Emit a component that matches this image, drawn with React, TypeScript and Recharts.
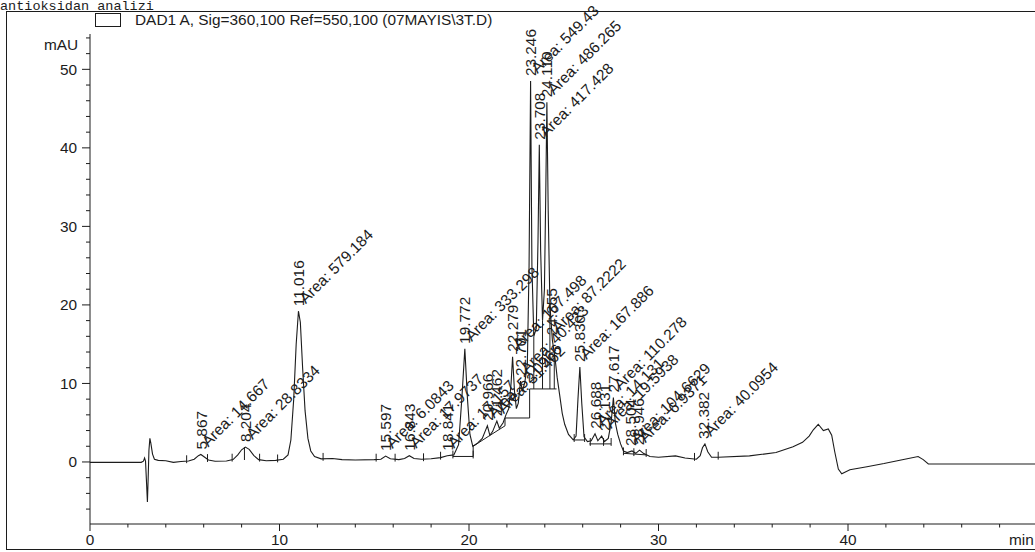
import { ComposedChart, Line, XAxis, YAxis, Scatter } from "recharts";

// detector trace, [min, mAU]
const trace: [number, number][] = [
  [0, -0.05], [2.7, -0.05], [2.82, 0.1], [2.88, 0.5], [2.93, 0.1], [2.98, -2.5], [3.03, -5.1], [3.07, -2],
  [3.11, 1.5], [3.16, 3.0], [3.21, 2.4], [3.3, 1.0], [3.4, 0.35], [3.6, 0.2], [4.0, 0.15], [4.4, -0.05],
  [4.8, 0.05], [5.2, 0.12], [5.5, 0.35], [5.72, 0.8], [5.85, 0.95], [6.0, 0.7], [6.25, 0.25], [6.6, 0.1],
  [7.2, 0.12], [7.55, 0.3], [7.8, 0.9], [8.0, 1.55], [8.2, 1.9], [8.4, 1.6], [8.65, 0.8], [8.9, 0.3],
  [9.3, 0.15], [9.8, 0.2], [10.2, 0.35], [10.45, 0.9], [10.6, 2.8], [10.75, 8], [10.88, 15], [11.0, 19.2],
  [11.1, 17.8], [11.22, 12], [11.35, 6.5], [11.5, 3], [11.65, 1.4], [11.85, 0.7], [12.2, 0.4], [12.8, 0.45],
  [13.3, 0.3], [14.0, 0.25], [15.0, 0.3], [15.35, 0.35], [15.6, 0.75], [15.85, 0.4], [16.3, 0.3], [16.6, 0.45],
  [16.85, 0.8], [17.1, 0.45], [17.5, 0.35], [18.0, 0.4], [18.5, 0.55], [18.85, 0.8], [19.2, 0.9], [19.45, 2.2],
  [19.62, 8], [19.78, 14.4], [19.92, 8], [20.05, 3.5], [20.2, 2.0], [20.45, 2.4], [20.7, 3.0], [20.85, 3.9],
  [20.97, 4.6], [21.1, 3.4], [21.25, 3.9], [21.35, 4.5], [21.47, 5.2], [21.6, 4.3], [21.8, 5.0], [21.95, 6.0],
  [22.1, 6.8], [22.22, 10], [22.3, 13.4], [22.4, 9], [22.5, 6.8], [22.6, 7.5], [22.72, 10.3], [22.82, 9],
  [22.95, 10.2], [23.08, 12.5], [23.17, 25], [23.25, 48.5], [23.32, 25], [23.42, 16], [23.55, 17], [23.64, 28],
  [23.71, 40.4], [23.78, 27], [23.88, 18], [23.98, 22], [24.05, 34], [24.11, 45.8], [24.18, 32], [24.27, 20],
  [24.4, 15.5], [24.55, 13], [24.65, 10.8], [24.78, 8.6], [24.92, 6.2], [25.05, 4.8], [25.25, 3.5], [25.5, 2.8],
  [25.65, 3.3], [25.75, 8], [25.85, 12.1], [25.95, 7.5], [26.07, 3.2], [26.25, 2.6], [26.45, 2.7], [26.65, 3.6],
  [26.8, 2.7], [27.0, 3.3], [27.15, 2.6], [27.35, 3.0], [27.5, 5.0], [27.62, 8.2], [27.72, 5.0], [27.85, 3.5],
  [28.0, 2.3], [28.15, 1.4], [28.35, 1.2], [28.6, 1.4], [28.8, 1.1], [29.0, 1.5], [29.2, 1.1], [29.55, 0.7],
  [30.0, 0.6], [30.9, 0.77], [31.4, 0.5], [32.0, 0.35], [32.2, 0.8], [32.32, 1.8], [32.45, 2.3], [32.6, 1.3],
  [32.8, 0.6], [33.16, 0.6], [34.8, 0.77], [36.2, 1.2], [37.1, 1.95], [37.6, 2.5], [37.95, 3.3], [38.17, 4.1],
  [38.43, 4.8], [38.7, 4.0], [38.96, 4.2], [39.14, 3.4], [39.3, 1.3], [39.49, -0.9], [39.67, -1.5], [40.1, -1.0],
  [41.0, -0.6], [41.9, -0.2], [42.8, 0.25], [43.7, 0.7], [43.97, 0.3], [44.24, -0.25], [50, -0.25],
];

// integration results
const peakRT = [5.867, 8.204, 11.016, 15.597, 16.843, 18.841, 19.772, 20.966, 21.462, 22.279, 22.701, 23.246, 23.708, 24.11, 24.355, 25.83, 26.688, 27.131, 27.617, 28.504, 28.946, 32.382];
const peakArea = ["14.667", "28.8334", "579.184", "6.0843", "17.9737", "17.157", "333.298", "52.0966", "31.462", "107.498", "40.423", "549.43", "417.428", "486.265", "87.2222", "167.886", "14.131", "19.5938", "110.278", "104.6629", "6.9371", "40.0954"];
const peakTop = [0.95, 1.9, 19.2, 0.75, 0.8, 0.8, 14.4, 4.6, 5.2, 13.4, 10.3, 48.5, 40.4, 45.8, 15.5, 12.1, 3.6, 3.3, 8.2, 1.4, 1.5, 2.3];
const rtText = ["5.867", "8.204", "11.016", "15.597", "16.843", "18.841", "19.772", "20.966", "21.462", "22.279", "22.701", "23.246", "23.708", "24.110", "24.355", "25.830", "26.688", "27.131", "27.617", "28.504", "28.946", "32.382"];

// baselines drawn by the integrator, [t1, v1, t2, v2]
const baselines: [number, number, number, number][] = [
  [19.15, 0.7, 20.22, 0.7], [20.22, 0.7, 20.22, 2.0], [20.22, 2.0, 21.05, 3.3], [21.05, 3.3, 21.9, 4.6],
  [21.9, 4.6, 21.9, 5.6], [21.9, 5.6, 23.2, 5.6], [23.2, 5.6, 23.2, 9.3], [23.2, 9.3, 24.62, 9.3],
  [25.55, 2.8, 26.1, 2.8], [26.35, 2.3, 27.5, 2.3], [28.15, 1.1, 29.35, 0.9],
];
const dropLines: [number, number, number][] = [
  [8.15, 0.25, 1.9], [23.42, 9.3, 16], [23.88, 9.3, 18], [24.27, 9.3, 20], [24.5, 9.3, 13.8],
];
const boundaryTicks: [number, number][] = [
  [5.1, 0.1], [6.2, 0.25], [7.5, 0.3], [8.95, 0.3], [9.9, 0.2], [12.3, 0.4], [15.1, 0.3], [16.1, 0.3],
  [17.6, 0.35], [18.5, 0.55], [19.15, 0.7], [20.22, 0.7], [25.55, 2.8], [26.1, 2.8], [26.4, 2.3], [27.1, 2.3],
  [27.5, 2.3], [28.15, 1.1], [28.7, 1.0], [29.35, 0.9], [31.9, 0.4], [33.15, 0.55],
];

const xTicks = [0, 2, 4, 6, 8, 10, 12, 14, 16, 18, 20, 22, 24, 26, 28, 30, 32, 34, 36, 38, 40, 42, 44, 46, 48];
const yTicks = [-6, -4, -2, 0, 2, 4, 6, 8, 10, 12, 14, 16, 18, 20, 22, 24, 26, 28, 30, 32, 34, 36, 38, 40, 42, 44, 46, 48, 50, 52, 54];

const INK = "#1c1c1c";
const FONT = "'Liberation Sans', Arial, Helvetica, sans-serif";
const FS = 15.4;

const traceData = trace.map(([t, v]) => ({ t, v }));
const peakData = peakRT.map((t, i) => ({ t, v: peakTop[i], rt: rtText[i], area: peakArea[i] }));
const baselineData = baselines.flatMap(([t1, v1, t2, v2]) => [{ t: t1, v: v1 }, { t: t2, v: v2 }, { t: t2, v: null }]);
const dropData = dropLines.flatMap(([t, lo, hi]) => [{ t, v: lo }, { t, v: hi }, { t, v: null }]);
const tickData = boundaryTicks.flatMap(([t, b]) => [{ t, v: b - 0.25 }, { t, v: b + 0.75 }, { t, v: null }]);

function PeakLabel(props: any) {
  const { cx, cy, payload } = props;
  if (cx == null || cy == null) return null;
  return (
    <g fill={INK} fontFamily={FONT} fontSize={FS}>
      <text transform={`translate(${cx + 5.5},${cy - 5}) rotate(-90)`}>{payload.rt}</text>
      <text transform={`translate(${cx + 7},${cy - 7}) rotate(-45)`}>{`Area: ${payload.area}`}</text>
    </g>
  );
}

function YTick(props: any) {
  const { x, y, payload } = props;
  const major = payload.value % 10 === 0;
  return (
    <g>
      <line x1={x - (major ? 8 : 4)} x2={x} y1={y} y2={y} stroke={INK} />
      {major && (
        <text x={x - 13} y={y} dy="0.35em" textAnchor="end" fontFamily={FONT} fontSize={FS} fill={INK}>
          {payload.value}
        </text>
      )}
    </g>
  );
}

function XTick(props: any) {
  const { x, y, payload } = props;
  const major = payload.value % 10 === 0;
  return (
    <g>
      <line x1={x} x2={x} y1={y} y2={y + (major ? 7 : 3.5)} stroke={INK} />
      {major && (
        <text x={x} y={y + 21} textAnchor="middle" fontFamily={FONT} fontSize={FS} fill={INK}>
          {payload.value}
        </text>
      )}
    </g>
  );
}

export default function App() {
  return (
    <div style={{ position: "absolute", left: 0, top: 0, width: 1035, height: 552, overflow: "hidden", background: "#fff" }}>
      <div style={{ position: "absolute", left: 0, top: 1, fontFamily: "'Liberation Mono', 'Courier New', monospace", fontSize: 13.5, lineHeight: "11px", color: INK, whiteSpace: "nowrap" }}>
        antioksidan analizi
      </div>
      <div style={{ position: "absolute", left: 6, top: 11, width: 1100, height: 537, border: `1px solid ${INK}` }} />
      <div style={{ position: "absolute", left: 95, top: 13, width: 24, height: 12, border: `1px solid ${INK}` }} />
      <div style={{ position: "absolute", left: 135, top: 11, fontFamily: FONT, fontSize: FS, color: INK, whiteSpace: "nowrap" }}>
        DAD1 A, Sig=360,100 Ref=550,100 (07MAYIS\3T.D)
      </div>
      <div style={{ position: "absolute", left: 44, top: 36, fontFamily: FONT, fontSize: FS, color: INK }}>mAU</div>
      <div style={{ position: "absolute", left: 1009, top: 531, fontFamily: FONT, fontSize: FS, color: INK }}>min</div>
      <div style={{ position: "absolute", left: 0, top: 0 }}>
        <ComposedChart width={1040} height={552} data={traceData} margin={{ top: 34, right: 2.5, bottom: 0, left: 0 }}>
          <XAxis
            dataKey="t"
            type="number"
            domain={[0, 50]}
            ticks={xTicks}
            interval={0}
            height={28}
            tickSize={0}
            tickMargin={0}
            tickLine={false}
            tick={<XTick />}
            axisLine={{ stroke: INK }}
          />
          <YAxis
            type="number"
            domain={[-7.9, 54.5]}
            ticks={yTicks}
            interval={0}
            width={90}
            tickSize={0}
            tickMargin={0}
            tickLine={false}
            tick={<YTick />}
            axisLine={{ stroke: INK }}
          />
          <Line data={tickData} dataKey="v" stroke={INK} strokeWidth={1} dot={false} isAnimationActive={false} connectNulls={false} />
          <Line data={baselineData} dataKey="v" stroke={INK} strokeWidth={1} dot={false} isAnimationActive={false} connectNulls={false} />
          <Line data={dropData} dataKey="v" stroke={INK} strokeWidth={1} dot={false} isAnimationActive={false} connectNulls={false} />
          <Line dataKey="v" stroke={INK} strokeWidth={1.1} dot={false} isAnimationActive={false} type="linear" />
          <Scatter data={peakData} dataKey="v" shape={<PeakLabel />} isAnimationActive={false} />
        </ComposedChart>
      </div>
    </div>
  );
}
